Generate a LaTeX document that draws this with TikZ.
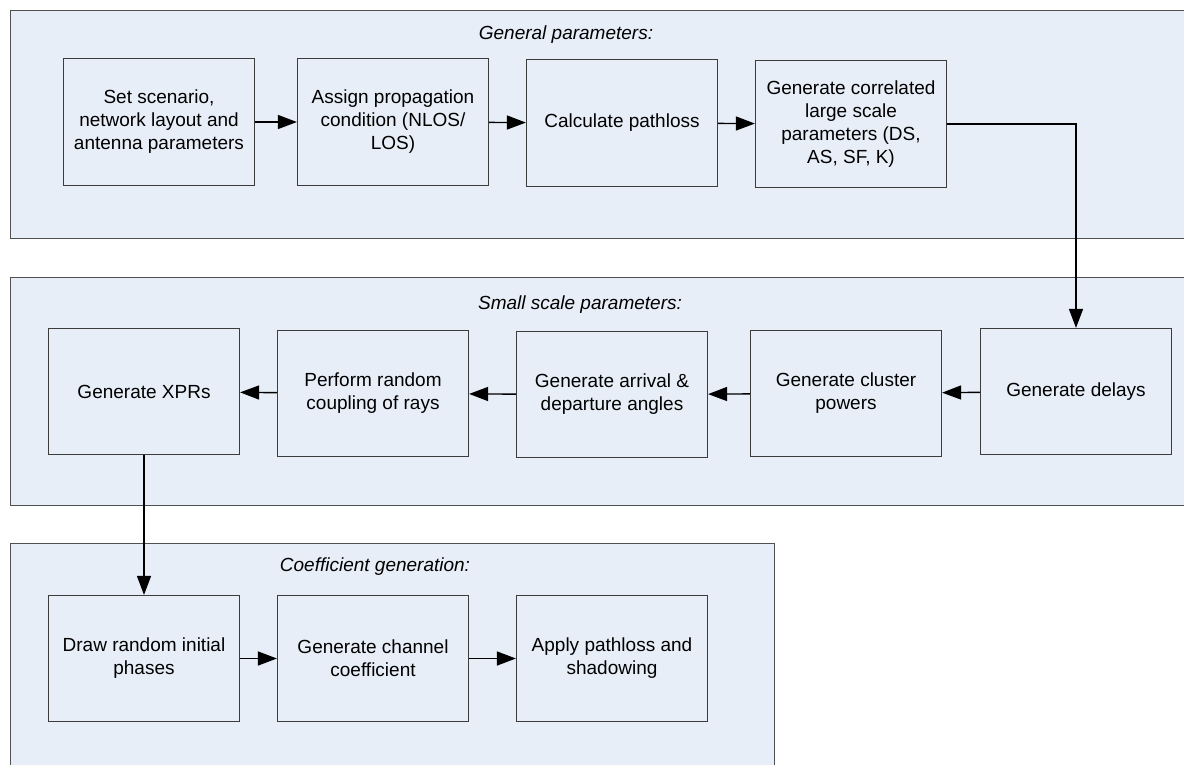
\documentclass[tikz,border=0pt]{standalone}
\usepackage{fontspec}
\setmainfont{Liberation Sans}
\usetikzlibrary{arrows.meta}
\definecolor{panelfill}{RGB}{232,238,248}
\definecolor{panelline}{RGB}{80,80,80}
\definecolor{boxline}{RGB}{60,60,60}
\begin{document}
\begin{tikzpicture}[x=1pt,y=-1pt,
  panel/.style={draw=panelline,fill=panelfill,line width=1.3pt},
  stepbox/.style={draw=boxline,fill=panelfill,line width=1.2pt,minimum width=191pt,minimum height=127pt,inner sep=2pt,align=center,font=\fontsize{19}{23}\selectfont},
  ptitle/.style={font=\fontsize{19}{23}\selectfont\itshape,inner sep=0pt},
  flow/.style={draw=black,line width=1.4pt,-{Triangle[length=19pt,width=14pt]}}]
\useasboundingbox (0,0) rectangle (1184,764);
\clip (0,0) rectangle (1184,764);
% panels
\path[panel] (10.5,10.5) rectangle (1195,238.5);
\path[panel] (10.5,277.5) rectangle (1195,505.5);
\path[panel] (10.5,543.5) rectangle (774.5,775);
\node[ptitle] (t1) at (566,35) {General parameters:};
\node[ptitle] (t2) at (580,305) {Small scale parameters:};
\node[ptitle] (t3) at (375,567) {Coefficient generation:};
% row 1
\node[stepbox] (A1) at (159,122) {Set scenario,\\network layout and\\antenna parameters};
\node[stepbox] (A2) at (393,122) {Assign propagation\\condition (NLOS/\\LOS)};
\node[stepbox] (A3) at (622,123) {Calculate pathloss};
\node[stepbox] (A4) at (851,124) {Generate correlated\\large scale\\parameters (DS,\\AS, SF, K)};
% row 2
\node[stepbox,minimum height=126pt] (B1) at (144,391.5) {Generate XPRs};
\node[stepbox,minimum height=126pt] (B2) at (373,393.5) {Perform random\\coupling of rays};
\node[stepbox,minimum height=126pt] (B3) at (612,394.5) {Generate arrival \&\\departure angles};
\node[stepbox,minimum height=126pt] (B4) at (846,393.5) {Generate cluster\\powers};
\node[stepbox,minimum height=126pt] (B5) at (1076,391.5) {Generate delays};
% row 3
\node[stepbox,minimum height=126pt] (C1) at (144,658.5) {Draw random initial\\phases};
\node[stepbox,minimum height=126pt] (C2) at (373,658.5) {Generate channel\\coefficient};
\node[stepbox,minimum height=126pt] (C3) at (612,658.5) {Apply pathloss and\\shadowing};
% connectors
\draw[flow] (A1) -- (A2);
\draw[flow] (A2) -- (A3);
\draw[flow] (A3) -- (A4);
\draw[flow] (A4.east) -| (B5.north);
\draw[flow] (B5) -- (B4);
\draw[flow] (B4) -- (B3);
\draw[flow] (B3) -- (B2);
\draw[flow] (B2) -- (B1);
\draw[flow] (B1.south) -- (C1.north);
\draw[flow] (C1) -- (C2);
\draw[flow] (C2) -- (C3);
\end{tikzpicture}
\end{document}
